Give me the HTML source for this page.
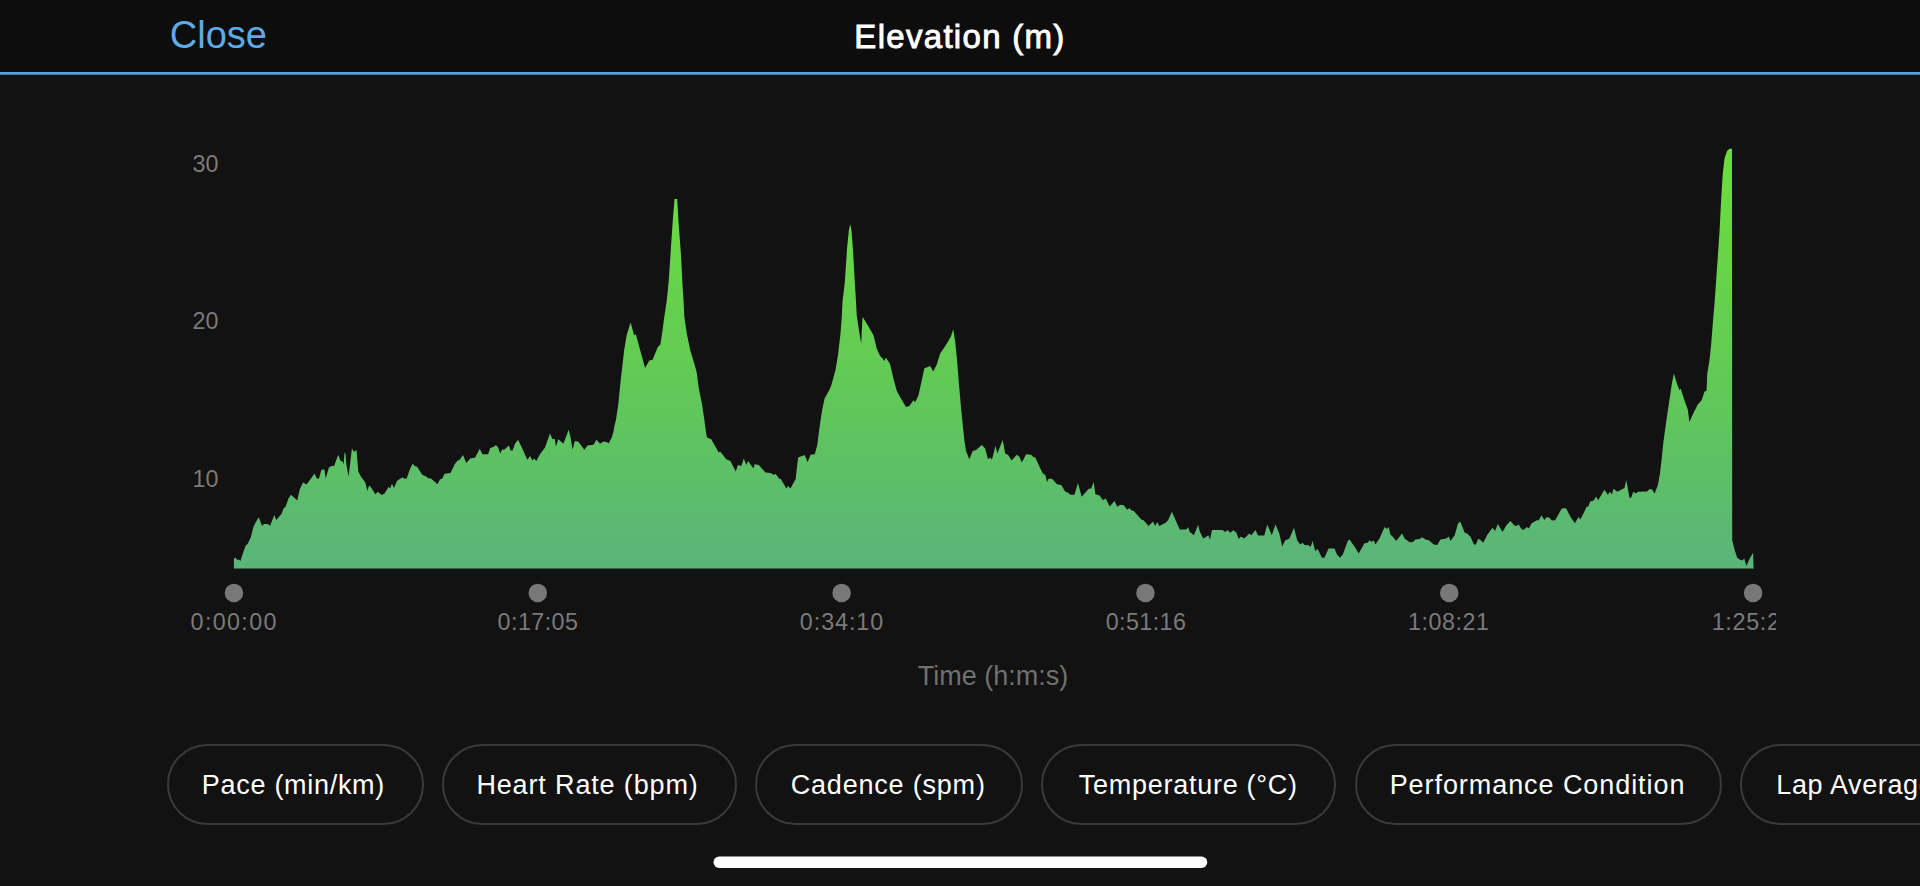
<!DOCTYPE html>
<html lang="en">
<head>
<meta charset="utf-8">
<title>Elevation (m)</title>
<style>
html,body{margin:0;padding:0;}
body{width:1920px;height:886px;overflow:hidden;background:#121212;position:relative;font-family:"Liberation Sans",sans-serif;}
.abs{position:absolute;}
#hdr{left:0;top:0;width:1920px;height:73px;background:#0d0d0d;}
#hline{left:0;top:72px;width:1920px;height:2px;background:#4b98d8;}
#close{left:169.8px;top:12.7px;font-size:38px;line-height:44px;color:#5cabe6;white-space:nowrap;}
#title{left:760px;width:400px;top:17.3px;text-align:center;font-size:33px;line-height:40px;color:#fff;font-weight:normal;-webkit-text-stroke:0.9px #fff;letter-spacing:1.3px;white-space:nowrap;}
.yl{left:160px;width:58.5px;text-align:right;font-size:23.3px;line-height:26px;color:#7a7a7a;}
.xl{width:160px;text-align:center;font-size:23.3px;line-height:26px;color:#7a7a7a;top:609px;white-space:nowrap;letter-spacing:0.3px;}
.dot{width:18px;height:18px;border-radius:50%;background:#7c7c7c;top:584px;}
#xt{left:843px;width:300px;text-align:center;top:661px;font-size:27px;line-height:30px;color:#707070;white-space:nowrap;}
.pill{top:744px;height:77px;border:2px solid #3a3a3a;border-radius:41px;color:#fff;font-size:27px;line-height:79px;letter-spacing:0.6px;text-align:center;white-space:nowrap;box-sizing:content-box;overflow:hidden;}
#home{left:714px;top:856px;width:493px;height:12px;border-radius:6px;background:#fff;}
svg{position:absolute;left:0;top:0;}
</style>
</head>
<body>
<div id="hdr" class="abs"></div>
<div id="close" class="abs">Close</div>
<div id="title" class="abs">Elevation (m)</div>

<div class="abs yl" style="top:151px">30</div>
<div class="abs yl" style="top:308px">20</div>
<div class="abs yl" style="top:466px">10</div>

<svg width="1920" height="886" viewBox="0 0 1920 886">
<defs>
<linearGradient id="g" gradientUnits="userSpaceOnUse" x1="0" y1="148" x2="0" y2="569">
<stop offset="0" stop-color="#6cde3a"/>
<stop offset="0.6" stop-color="#60c859"/>
<stop offset="1" stop-color="#59b47a"/>
</linearGradient>
</defs>
<path fill="url(#g)" d="M233.9 568.6 L233.9 558.6 L235.4 557.8 L237.5 559.9 L238.9 559.4 L240.4 561.1 L244.2 549.4 L245.9 545.3 L247.6 543.9 L250.9 536.9 L253.4 526.9 L255.9 521.9 L258.7 517.2 L262.1 526.0 L263.8 523.9 L267.6 523.9 L270.1 525.7 L274.3 514.9 L276.3 519.9 L281.8 513.5 L283.5 508.5 L285.6 506.8 L288.5 498.5 L291.0 494.8 L294.3 497.7 L297.2 500.5 L299.8 489.3 L303.0 482.6 L306.5 484.6 L311.0 478.4 L314.4 473.4 L316.9 478.4 L318.9 478.8 L321.4 470.1 L324.4 469.3 L325.7 478.4 L328.9 467.6 L331.6 465.9 L334.1 465.9 L338.2 454.7 L340.6 460.9 L342.8 461.7 L343.6 464.7 L344.6 452.1 L345.6 454.2 L346.3 464.2 L348.6 476.8 L351.9 448.4 L354.1 451.7 L356.5 450.1 L358.3 471.8 L361.1 476.8 L365.3 482.6 L367.3 491.0 L369.1 485.5 L371.1 487.6 L375.3 494.3 L377.8 491.8 L381.7 495.1 L384.5 493.5 L388.7 486.8 L390.0 488.5 L392.0 483.8 L394.0 488.1 L397.0 480.9 L400.4 478.4 L402.9 477.6 L404.6 478.8 L406.7 478.4 L409.6 470.1 L412.6 463.7 L414.6 465.9 L417.1 466.8 L422.4 475.1 L425.4 475.9 L427.9 478.1 L431.3 478.8 L437.5 484.3 L440.1 479.3 L442.1 478.8 L444.6 473.8 L450.5 473.1 L454.7 464.2 L457.2 460.9 L459.7 459.7 L463.0 455.1 L466.3 463.1 L470.2 458.4 L475.2 457.6 L479.7 448.7 L482.5 454.2 L488.1 454.2 L490.2 448.0 L493.9 446.7 L495.9 445.0 L498.1 447.5 L500.1 453.4 L502.3 449.2 L503.9 450.1 L508.9 445.4 L510.6 450.4 L512.6 450.4 L515.1 443.4 L518.1 439.7 L522.3 448.4 L527.3 459.7 L529.0 457.6 L530.0 455.9 L532.5 460.4 L534.2 458.4 L536.3 460.9 L540.0 454.2 L545.0 447.5 L550.0 433.4 L552.5 439.2 L554.7 438.7 L555.9 446.4 L558.4 439.2 L563.4 443.7 L568.7 429.7 L570.6 437.5 L572.6 449.7 L574.8 440.9 L578.4 441.7 L584.3 449.7 L587.6 445.4 L593.5 444.7 L596.5 439.7 L600.1 443.7 L603.5 441.4 L607.7 442.5 L608.5 443.4 L611.8 437.5 L613.5 431.7 L614.2 426.9 L615.9 420.3 L618.4 403.5 L620.0 386.8 L621.7 371.8 L624.2 350.1 L626.7 335.1 L630.6 322.5 L634.2 335.4 L635.9 334.2 L640.1 350.1 L645.1 368.1 L649.3 360.5 L652.6 359.8 L657.6 347.6 L660.5 344.3 L662.6 330.1 L664.3 316.7 L666.5 302.5 L666.8 300.3 L668.8 280.2 L671.0 246.8 L672.7 221.8 L674.5 198.9 L677.2 198.9 L678.5 221.8 L681.0 255.2 L682.7 288.6 L683.5 299.9 L684.3 316.7 L686.8 333.4 L690.2 350.1 L695.2 366.8 L696.9 373.5 L698.5 386.8 L701.9 403.5 L704.4 420.3 L706.2 433.6 L707.0 437.5 L711.2 439.2 L718.7 452.6 L720.4 451.7 L726.2 459.2 L730.4 460.9 L735.8 471.4 L737.9 465.1 L741.3 465.9 L743.8 458.4 L746.3 465.1 L748.0 460.9 L753.5 468.4 L754.6 464.2 L758.8 465.1 L765.5 472.6 L770.5 473.1 L774.2 475.1 L775.5 473.8 L779.7 479.3 L780.5 478.4 L786.4 488.5 L788.0 486.0 L790.5 488.5 L795.6 479.3 L798.1 457.6 L804.7 455.1 L807.6 462.1 L810.6 454.7 L814.8 454.2 L817.3 445.0 L819.4 428.3 L819.6 426.9 L822.1 410.2 L824.6 398.5 L829.6 389.4 L831.3 385.2 L835.5 370.1 L838.0 355.1 L840.5 333.4 L841.8 316.7 L842.5 301.7 L844.7 283.5 L847.2 246.8 L848.9 230.1 L850.2 224.3 L851.4 230.1 L853.0 250.1 L854.7 280.2 L855.9 299.9 L856.7 315.0 L859.2 331.7 L861.2 343.8 L862.5 316.7 L867.6 325.1 L873.4 335.1 L876.7 348.4 L880.1 355.9 L882.6 358.5 L884.3 361.0 L885.9 357.6 L890.1 364.3 L893.4 378.5 L896.8 391.0 L900.1 396.9 L906.0 406.9 L909.3 406.1 L913.5 400.2 L915.2 402.2 L918.5 395.2 L924.3 368.5 L930.2 366.0 L933.2 371.5 L936.9 364.3 L940.2 353.4 L946.9 343.4 L951.1 335.9 L953.2 329.2 L955.2 341.8 L956.9 358.5 L958.9 383.5 L961.1 408.6 L963.3 430.3 L964.3 440.0 L966.0 450.9 L969.3 459.2 L972.7 450.9 L976.0 450.1 L981.8 445.0 L985.2 448.4 L988.0 459.2 L990.2 457.6 L991.9 459.7 L995.5 445.9 L997.4 453.4 L1002.7 440.0 L1005.2 453.4 L1008.2 455.1 L1011.6 460.4 L1016.9 454.7 L1019.4 456.7 L1021.9 462.6 L1026.1 454.2 L1031.1 454.7 L1033.3 457.1 L1035.3 457.6 L1039.5 466.8 L1042.8 473.4 L1045.3 475.1 L1047.0 482.1 L1048.6 478.8 L1052.0 478.8 L1057.0 484.3 L1061.2 485.1 L1065.3 491.8 L1067.8 492.6 L1070.4 494.8 L1074.5 494.8 L1077.9 483.1 L1081.7 496.8 L1088.7 488.8 L1091.2 488.5 L1093.7 482.1 L1095.4 494.3 L1099.6 495.5 L1102.9 500.2 L1105.8 498.5 L1109.6 506.5 L1114.6 501.0 L1117.1 506.8 L1120.5 504.8 L1123.8 505.2 L1127.1 509.8 L1129.6 508.2 L1131.3 510.2 L1133.8 511.0 L1141.3 519.4 L1143.8 520.5 L1148.5 526.0 L1153.0 521.5 L1155.2 526.0 L1157.2 521.9 L1159.4 526.0 L1165.6 522.7 L1168.1 520.2 L1171.9 511.8 L1175.6 520.2 L1179.7 529.4 L1186.4 529.4 L1188.1 526.9 L1189.8 531.9 L1193.9 535.2 L1198.1 524.9 L1200.0 531.9 L1203.3 538.6 L1205.8 536.9 L1208.4 535.2 L1210.0 539.4 L1212.0 529.9 L1222.5 529.9 L1225.1 531.9 L1227.6 529.9 L1230.1 532.7 L1233.4 530.2 L1236.4 532.7 L1238.7 538.9 L1240.9 536.6 L1244.3 538.6 L1247.6 535.2 L1249.3 533.6 L1251.4 535.2 L1255.4 529.9 L1258.1 535.6 L1264.3 535.6 L1267.3 524.4 L1271.8 535.2 L1275.5 524.4 L1279.3 533.6 L1282.2 546.6 L1285.2 540.6 L1289.4 538.6 L1294.0 527.7 L1297.2 540.2 L1300.2 544.4 L1302.7 542.7 L1304.4 544.9 L1308.6 545.3 L1310.6 546.9 L1312.7 541.1 L1315.2 551.1 L1317.7 548.9 L1321.9 557.8 L1324.4 557.8 L1328.6 548.6 L1334.4 548.6 L1337.0 554.4 L1340.0 557.8 L1342.8 554.4 L1347.8 541.1 L1349.5 539.4 L1355.3 547.8 L1358.7 553.6 L1364.5 543.2 L1367.8 542.7 L1369.5 540.2 L1372.0 541.9 L1373.7 540.2 L1375.4 544.4 L1379.5 538.6 L1384.6 526.9 L1387.1 528.9 L1388.7 526.9 L1390.4 534.4 L1393.7 537.7 L1396.2 541.1 L1402.1 533.6 L1404.6 538.6 L1409.6 542.2 L1412.9 541.9 L1415.4 539.4 L1419.6 538.9 L1422.1 537.2 L1425.5 539.4 L1428.8 540.2 L1433.8 544.4 L1437.2 544.9 L1440.5 539.4 L1446.3 538.6 L1448.9 536.6 L1450.5 541.1 L1454.7 535.2 L1458.0 523.5 L1460.2 521.5 L1464.7 532.7 L1467.2 533.6 L1470.6 536.9 L1473.9 544.4 L1475.9 544.4 L1478.1 538.9 L1480.0 539.4 L1483.3 542.7 L1487.5 534.4 L1492.5 527.7 L1495.0 531.1 L1497.9 523.9 L1502.5 531.9 L1506.4 525.2 L1510.4 521.0 L1514.2 525.2 L1516.4 526.0 L1518.7 524.4 L1521.8 529.4 L1524.3 529.4 L1526.8 526.9 L1528.9 528.5 L1531.4 523.5 L1536.8 520.2 L1538.8 520.2 L1541.5 515.2 L1544.3 519.9 L1546.8 516.9 L1549.3 517.7 L1551.8 520.5 L1555.2 520.2 L1561.8 508.5 L1566.0 508.2 L1571.0 517.7 L1574.9 523.2 L1578.5 516.9 L1580.2 519.4 L1583.5 513.5 L1586.6 506.8 L1588.2 506.8 L1590.2 501.5 L1593.6 500.5 L1596.1 496.5 L1598.2 500.2 L1604.4 489.8 L1607.8 494.8 L1609.9 491.8 L1611.9 494.3 L1613.6 488.8 L1617.3 491.8 L1624.5 488.1 L1626.3 480.1 L1627.8 488.5 L1629.5 497.7 L1631.1 497.7 L1633.3 491.8 L1636.2 493.5 L1637.8 491.8 L1647.0 491.5 L1649.5 489.3 L1652.0 489.3 L1654.5 493.8 L1657.9 485.1 L1660.0 473.4 L1661.7 458.4 L1663.4 441.7 L1666.9 416.9 L1669.4 400.2 L1671.9 383.5 L1673.9 373.5 L1676.9 383.5 L1679.4 390.2 L1680.6 388.5 L1684.4 400.2 L1687.8 409.4 L1689.4 421.9 L1693.6 412.8 L1697.8 404.4 L1701.6 400.2 L1703.6 394.4 L1704.5 391.5 L1706.5 391.0 L1707.3 373.5 L1709.5 360.1 L1711.1 345.1 L1712.8 323.4 L1714.5 303.4 L1717.8 256.9 L1719.5 231.9 L1721.2 198.5 L1722.8 173.4 L1724.5 158.4 L1727.0 150.9 L1729.5 148.7 L1732.0 148.7 L1732.2 540.2 L1734.7 550.3 L1737.2 557.8 L1739.7 559.4 L1742.2 560.6 L1744.2 558.6 L1746.4 566.1 L1749.7 558.6 L1753.1 552.8 L1753.6 568.6 Z"/>
<rect x="0" y="72" width="1920" height="2.7" fill="#5ba5de"/>
<circle cx="233.95" cy="592.9" r="9.25" fill="#787878"/>
<circle cx="537.78" cy="592.9" r="9.25" fill="#787878"/>
<circle cx="841.61" cy="592.9" r="9.25" fill="#787878"/>
<circle cx="1145.44" cy="592.9" r="9.25" fill="#787878"/>
<circle cx="1449.27" cy="592.9" r="9.25" fill="#787878"/>
<circle cx="1753.10" cy="592.9" r="9.25" fill="#787878"/>
<rect x="713.5" y="856.5" width="493.75" height="11.4" rx="5.7" fill="#fff"/>
</svg>


<div class="abs xl" style="left:154.2px;letter-spacing:1.35px">0:00:00</div>
<div class="abs xl" style="left:458px;letter-spacing:0.45px">0:17:05</div>
<div class="abs xl" style="left:762px;letter-spacing:0.95px">0:34:10</div>
<div class="abs xl" style="left:1066px;letter-spacing:0.4px">0:51:16</div>
<div class="abs xl" style="left:1368.7px;letter-spacing:0.53px">1:08:21</div>
<div class="abs" style="left:1700px;top:600px;width:76px;height:40px;overflow:hidden"><div class="abs xl" style="left:-27px;top:9px;letter-spacing:0.7px">1:25:26</div></div>

<div id="xt" class="abs">Time (h:m:s)</div>

<div class="abs pill" style="left:167px;width:253px;letter-spacing:0.7px"><span style="position:relative;left:-2.1px">Pace (min/km)</span></div>
<div class="abs pill" style="left:442px;width:291px;letter-spacing:0.85px"><span style="position:relative;left:-2px">Heart Rate (bpm)</span></div>
<div class="abs pill" style="left:755px;width:264px;letter-spacing:0.8px"><span style="position:relative;left:-0.8px">Cadence (spm)</span></div>
<div class="abs pill" style="left:1041px;width:291px;letter-spacing:0.73px"><span style="position:relative;left:-0.2px">Temperature (°C)</span></div>
<div class="abs pill" style="left:1355px;width:363px;letter-spacing:0.93px"><span style="position:relative;left:-1px">Performance Condition</span></div>
<div class="abs pill" style="left:1740px;width:330px;text-align:left;text-indent:34.3px;letter-spacing:0.63px">Lap Average Pace</div>

</body>
</html>
